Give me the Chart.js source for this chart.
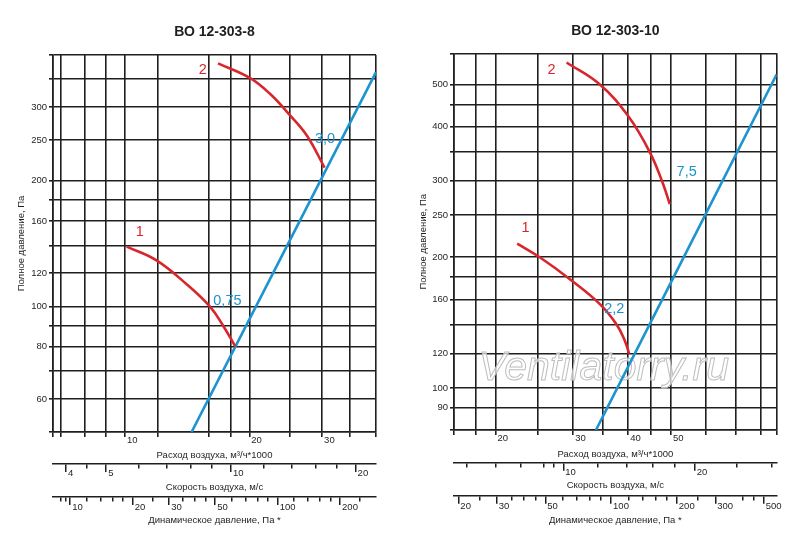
<!DOCTYPE html>
<html lang="ru">
<head>
<meta charset="utf-8">
<title>ВО 12-303</title>
<script src="https://cdn.jsdelivr.net/npm/chart.js@4.4.1/dist/chart.umd.min.js"></script>
<style>
  html, body { margin: 0; padding: 0; background: #fff; }
  .wrap { display: flex; width: 800px; height: 542px; }
  .box { position: relative; width: 400px; height: 542px; }
</style>
</head>
<body>
<div class="wrap">
  <div class="box"><canvas id="fan8" width="400" height="542"></canvas></div>
  <div class="box"><canvas id="fan10" width="400" height="542"></canvas></div>
</div>
<script>
// ВО 12-303-8 : fan curves (red) and network line (blue)
const q8Curve1 = [10.1, 11.9, 14.1, 16.1, 17.3, 18.5];
const p8Curve1 = [139, 129, 113, 99.6, 89.7, 80.1];
const q8Curve2 = [16.8, 20.1, 22.5, 25.0, 27.6, 30.4];
const p8Curve2 = [382, 352, 322, 288, 256, 215];
const q8Line = [14.5, 40.5];
const p8Line = [50, 364];
const label8Text = ['1', '2', '0,75', '3,0'];
const label8Q = [10.87, 15.43, 17.7, 30.5];
const label8P = [151, 368, 103, 251];

// ВО 12-303-10
const q10Curve1 = [22.4, 25.2, 29.5, 34.5, 37.65, 39.3, 40.2];
const p10Curve1 = [215, 200, 178, 156, 140, 128.5, 119.8];
const q10Curve2 = [29.0, 34.5, 40.0, 44.8, 48.0, 49.7];
const p10Curve2 = [562, 500, 423, 349, 295, 265];
const q10Line = [33.8, 86.9];
const p10Line = [80, 528];
const label10Text = ['1', '2', '7,5', '2,2'];
const label10Q = [23.4, 26.8, 54.3, 37.2];
const label10P = [233, 540, 315, 152];

// tick values of every axis
const flowTicks8 = [6.7, 7, 8, 9, 10, 12, 16, 18, 20, 25, 30, 35, 40.5];
const flowLabels8 = [10, 20, 30];
const pressTicks8 = [50, 60, 70, 80, 90, 100, 120, 140, 160, 180, 200, 250, 300, 350, 400];
const pressLabels8 = [60, 80, 100, 120, 160, 200, 250, 300];
const speedTicks8 = [4, 4.5, 5, 6, 7, 8, 9, 10, 12, 14, 16, 18, 20];
const speedLabels8 = [4, 5, 10, 20];
const dynTicks8 = [9, 9.5, 10, 12, 14, 16, 18, 20, 25, 30, 35, 40, 45, 50, 60, 70, 80, 90, 100, 120, 140, 160, 180, 200, 250];
const dynLabels8 = [10, 20, 30, 50, 100, 200];

const flowTicks10 = [16.1, 18, 20, 25, 30, 35, 40, 45, 50, 60, 70, 80, 86.9];
const flowLabels10 = [20, 30, 40, 50];
const pressTicks10 = [80, 90, 100, 120, 140, 160, 180, 200, 250, 300, 350, 400, 450, 500, 590];
const pressLabels10 = [90, 100, 120, 160, 200, 250, 300, 400, 500];
const speedTicks10 = [6, 7, 8, 9, 9.5, 10, 12, 14, 16, 18, 20, 25, 30];
const speedLabels10 = [10, 20];
const dynTicks10 = [20, 25, 30, 35, 40, 45, 50, 60, 70, 80, 90, 100, 120, 140, 160, 180, 200, 250, 300, 400, 450, 500];
const dynLabels10 = [20, 30, 50, 100, 200, 300, 500];

const INK = '#1f1f1f';
const RED = '#d8262d';
const BLUE = '#1d93d0';
const FONT = '"Liberation Sans", Arial, sans-serif';
const small = { family: FONT, size: 9.5 };

const pts = (qs, ps) => qs.map((q, i) => ({ x: q, y: ps[i] }));
const setTicks = values => scale => { scale.ticks = values.map(v => ({ value: v })); };
const labelOf = labels => v => labels.includes(v) ? String(v) : '';

function curve(data, color) {
  return {
    data, borderColor: color, borderWidth: 2.6, pointRadius: 0,
    showLine: true, tension: 0.4, fill: false
  };
}

function underAxis(weight, ticks, labels, min, max, text, height, titlePad, tickPad) {
  return {
    type: 'logarithmic', axis: 'x', position: 'bottom', weight, min, max,
    afterBuildTicks: setTicks(ticks),
    afterFit: s => { s.height = height; },
    grid: {
      drawOnChartArea: false, color: INK, lineWidth: 1.5, tickWidth: 1.5, tickLength: 8,
      tickBorderDash: c => (c.tick && labels.includes(c.tick.value)) ? [] : [4, 20]
    },
    border: { color: INK, width: 1.5 },
    ticks: {
      autoSkip: false, maxRotation: 0, align: 'start', labelOffset: 2, padding: tickPad,
      color: INK, font: small, callback: labelOf(labels)
    },
    title: { display: true, text, color: INK, font: small, padding: { top: 0, bottom: titlePad } }
  };
}

function makeChart(id, cfg) {
  const notes = {
    id: 'notes',
    beforeDatasetsDraw(chart) {
      if (!cfg.mark) return;
      const { ctx, scales: { x, y } } = chart;
      ctx.save();
      ctx.font = 'italic 41px ' + FONT;
      ctx.textAlign = 'center';
      ctx.textBaseline = 'middle';
      ctx.lineWidth = 1;
      ctx.fillStyle = 'rgba(255,255,255,0.7)';
      ctx.strokeStyle = '#bdbdbd';
      const px = x.getPixelForValue(cfg.mark.q), py = y.getPixelForValue(cfg.mark.p);
      ctx.fillText(cfg.mark.text, px, py);
      ctx.strokeText(cfg.mark.text, px, py);
      ctx.restore();
    },
    afterDatasetsDraw(chart) {
      const { ctx, scales: { x, y } } = chart;
      ctx.save();
      ctx.font = '14.5px ' + FONT;
      ctx.textAlign = 'center';
      ctx.textBaseline = 'middle';
      cfg.labelText.forEach((t, i) => {
        ctx.fillStyle = i < 2 ? RED : BLUE;
        ctx.fillText(t, x.getPixelForValue(cfg.labelQ[i]), y.getPixelForValue(cfg.labelP[i]));
      });
      ctx.restore();
    }
  };

  return new Chart(document.getElementById(id), {
    type: 'scatter',
    data: {
      datasets: [
        curve(cfg.curve1, RED),
        curve(cfg.curve2, RED),
        curve(cfg.line, BLUE)
      ]
    },
    options: {
      responsive: false,
      animation: false,
      events: [],
      layout: { padding: { left: 0, top: 0, right: cfg.padRight, bottom: cfg.padBottom } },
      plugins: {
        legend: { display: false },
        tooltip: { enabled: false },
        title: {
          display: true, text: cfg.title, fullSize: false, color: INK,
          font: { family: FONT, size: 14, weight: 'bold' },
          padding: { top: cfg.titleTop, bottom: cfg.titleBottom }
        }
      },
      scales: {
        x: {
          type: 'logarithmic', position: 'bottom', weight: 0, min: cfg.qRange[0], max: cfg.qRange[1],
          afterBuildTicks: setTicks(cfg.qTicks),
          afterFit: s => { s.height = cfg.heights[0]; },
          grid: { color: INK, lineWidth: 1.6, tickLength: 5 },
          border: { color: INK, width: 1.6 },
          ticks: {
            autoSkip: false, maxRotation: 0, align: 'start', labelOffset: 2, padding: -2,
            color: INK, font: small, callback: labelOf(cfg.qLabels)
          },
          title: {
            display: true, text: 'Расход воздуха, м³/ч*1000', color: INK, font: small,
            padding: { top: 0, bottom: cfg.titlePads[0] }
          }
        },
        xv: underAxis(1, cfg.vTicks, cfg.vLabels, cfg.vRange[0], cfg.vRange[1],
          'Скорость воздуха, м/с', cfg.heights[1], cfg.titlePads[1], -4),
        xp: underAxis(2, cfg.dTicks, cfg.dLabels, cfg.dRange[0], cfg.dRange[1],
          'Динамическое давление, Па *', cfg.heights[2], cfg.titlePads[2], -3),
        y: {
          type: 'logarithmic', min: cfg.pRange[0], max: cfg.pRange[1],
          afterBuildTicks: setTicks(cfg.pTicks),
          afterFit: s => { s.width = cfg.yWidth; },
          grid: { color: INK, lineWidth: 1.6, tickLength: 4 },
          border: { color: INK, width: 1.6 },
          ticks: { autoSkip: false, padding: 2, color: INK, font: small, callback: labelOf(cfg.pLabels) },
          title: {
            display: true, text: 'Полное давление, Па', color: INK, font: small,
            padding: { top: cfg.yTitlePad, bottom: 0 }
          }
        }
      }
    },
    plugins: [notes]
  });
}

makeChart('fan8', {
  title: 'ВО 12-303-8',
  curve1: pts(q8Curve1, p8Curve1),
  curve2: pts(q8Curve2, p8Curve2),
  line: pts(q8Line, p8Line),
  labelText: label8Text, labelQ: label8Q, labelP: label8P,
  qRange: [6.7, 40.5], qTicks: flowTicks8, qLabels: flowLabels8,
  pRange: [50, 400], pTicks: pressTicks8, pLabels: pressLabels8,
  vRange: [3.72, 22.4], vTicks: speedTicks8, vLabels: speedLabels8,
  dRange: [8.26, 298], dTicks: dynTicks8, dLabels: dynLabels8,
  yWidth: 53, yTitlePad: 15.5,
  heights: [32, 33, 32], titlePads: [3, 4, 3],
  padRight: 24, padBottom: 13, titleTop: 23.6, titleBottom: 14.6
});

makeChart('fan10', {
  title: 'ВО 12-303-10',
  curve1: pts(q10Curve1, p10Curve1),
  curve2: pts(q10Curve2, p10Curve2),
  line: pts(q10Line, p10Line),
  labelText: label10Text, labelQ: label10Q, labelP: label10P,
  mark: { text: 'Ventilatorry.ru', q: 35.2, p: 111 },
  qRange: [16.1, 86.9], qTicks: flowTicks10, qLabels: flowLabels10,
  pRange: [80, 590], pTicks: pressTicks10, pLabels: pressLabels10,
  vRange: [5.62, 30.8], vTicks: speedTicks10, vLabels: speedLabels10,
  dRange: [19.1, 573], dTicks: dynTicks10, dLabels: dynLabels10,
  yWidth: 54, yTitlePad: 18,
  heights: [32.7, 33, 32], titlePads: [3, 4.4, 2],
  padRight: 23.3, padBottom: 14.3, titleTop: 22.3, titleBottom: 14.2
});
</script>
</body>
</html>
